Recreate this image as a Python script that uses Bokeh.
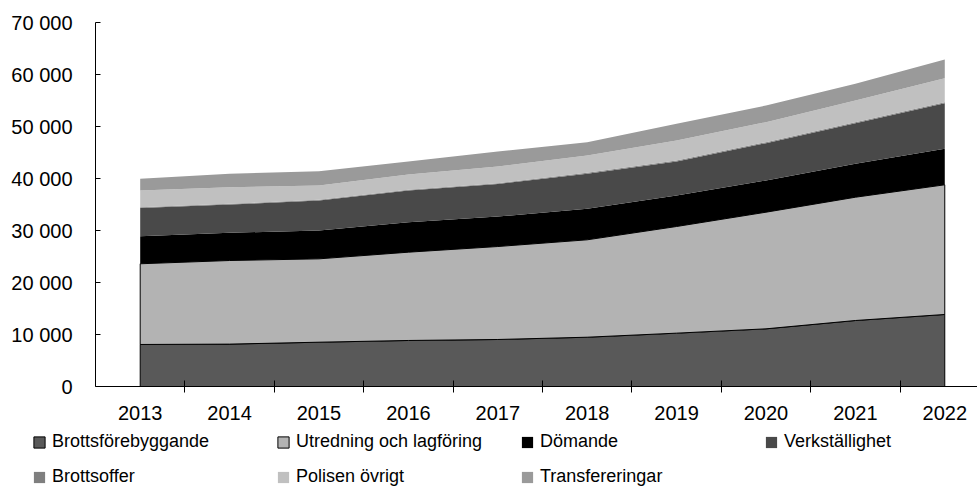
import numpy as np
from bokeh.plotting import figure
from bokeh.layouts import column, row
from bokeh.models import Range1d, FixedTicker, Legend, LegendItem
from bokeh.embed import file_html
from bokeh.resources import INLINE

years = [2013, 2014, 2015, 2016, 2017, 2018, 2019, 2020, 2021, 2022]
series_names = ["Brottsförebyggande", "Utredning och lagföring", "Dömande",
                "Verkställighet", "Brottsoffer", "Polisen övrigt", "Transfereringar"]
brottsforebyggande = [8080, 8150, 8520, 8850, 9040, 9480, 10260, 11090, 12690, 13850]
utredning = [15520, 16080, 16030, 16980, 17880, 18730, 20510, 22430, 23710, 24940]
domande = [5300, 5330, 5450, 5770, 5770, 5960, 5960, 6100, 6430, 6920]
verkstallighet = [5450, 5430, 5750, 6080, 6250, 6760, 6560, 7180, 7810, 8760]
brottsoffer = [130, 140, 150, 150, 160, 170, 170, 180, 190, 200]
polisen_ovrigt = [3210, 3200, 2750, 2940, 3210, 3320, 3850, 3850, 4170, 4620]
transfereringar = [2250, 2570, 2750, 2500, 2880, 2560, 3210, 3210, 3210, 3590]

yticks = [0, 10000, 20000, 30000, 40000, 50000, 60000, 70000]
ytick_labels = ["0", "10 000", "20 000", "30 000", "40 000", "50 000", "60 000", "70 000"]

colors = ["#595959", "#b3b3b3", "#000000", "#494949", "#7f7f7f", "#c0c0c0", "#9a9a9a"]
outlined = [True, True, False, False, False, False, False]

FONT = "Liberation Sans"

p = figure(width=977, height=430, output_backend="svg", toolbar_location=None,
           x_range=Range1d(-0.5, 9.366), y_range=Range1d(0, 70000),
           min_border_left=95, min_border_right=0, min_border_top=22,
           min_border_bottom=44)
p.outline_line_color = None
p.xgrid.grid_line_color = None
p.ygrid.grid_line_color = None
p.background_fill_color = "white"

# legend strip (its copies of the areas lie outside its visible range)
q = figure(width=977, height=57, output_backend="svg", toolbar_location=None,
           x_axis_type=None, y_axis_type=None,
           x_range=Range1d(100, 101), y_range=Range1d(0, 1),
           min_border_left=0, min_border_right=0, min_border_top=0, min_border_bottom=0)
q.outline_line_color = None
q.xgrid.grid_line_color = None
q.ygrid.grid_line_color = None

idx = np.arange(len(years), dtype=float)
data = [brottsforebyggande, utredning, domande, verkstallighet, brottsoffer,
        polisen_ovrigt, transfereringar]
cum = np.cumsum(np.array(data, dtype=float), axis=0)

items = []
for i, name in enumerate(series_names):
    top = cum[i]
    bottom = cum[i - 1] if i > 0 else np.zeros(len(years))
    xs = list(idx) + list(idx[::-1])
    ys = list(top) + list(bottom[::-1])
    if outlined[i]:
        style = dict(fill_color=colors[i], line_color="black", line_width=1)
    else:
        style = dict(fill_color=colors[i], line_alpha=0, line_width=0)
    p.patch(xs, ys, **style)
    r = q.patch(xs, ys, **style)
    items.append(LegendItem(label=name, renderers=[r]))

# x axis
xa = p.xaxis[0]
xa.ticker = FixedTicker(ticks=list(idx), minor_ticks=[i + 0.5 for i in range(len(years) - 1)])
xa.major_label_overrides = {int(i): str(y) for i, y in zip(range(len(years)), years)}
xa.major_tick_in = 0
xa.major_tick_out = 0
xa.minor_tick_in = 6
xa.minor_tick_out = 6
xa.minor_tick_line_color = "black"
xa.axis_line_color = "black"
xa.major_label_standoff = 13
xa.major_label_text_font = FONT
xa.major_label_text_font_size = "20px"
xa.major_label_text_color = "black"

# y axis
ya = p.yaxis[0]
ya.ticker = FixedTicker(ticks=yticks, minor_ticks=[])
ya.major_label_overrides = {t: l for t, l in zip(yticks, ytick_labels)}
ya.major_tick_in = 5
ya.major_tick_out = 0
ya.major_tick_line_color = "black"
ya.minor_tick_line_color = None
ya.axis_line_color = "black"
ya.major_label_standoff = 23
ya.major_label_text_font = FONT
ya.major_label_text_font_size = "20px"
ya.major_label_text_color = "black"

legend = Legend(items=items, location=(32, 0), orientation="horizontal", ncols=4,
                glyph_width=14, glyph_height=14, label_standoff=6, label_width=210,
                label_height=20, spacing=14, padding=0, margin=0,
                border_line_color=None, background_fill_alpha=0,
                label_text_font=FONT, label_text_font_size="18px",
                label_text_color="black")
q.add_layout(legend)

layout = column(p, row(q), spacing=0)
open("out.html", "w").write(file_html(layout, INLINE))
